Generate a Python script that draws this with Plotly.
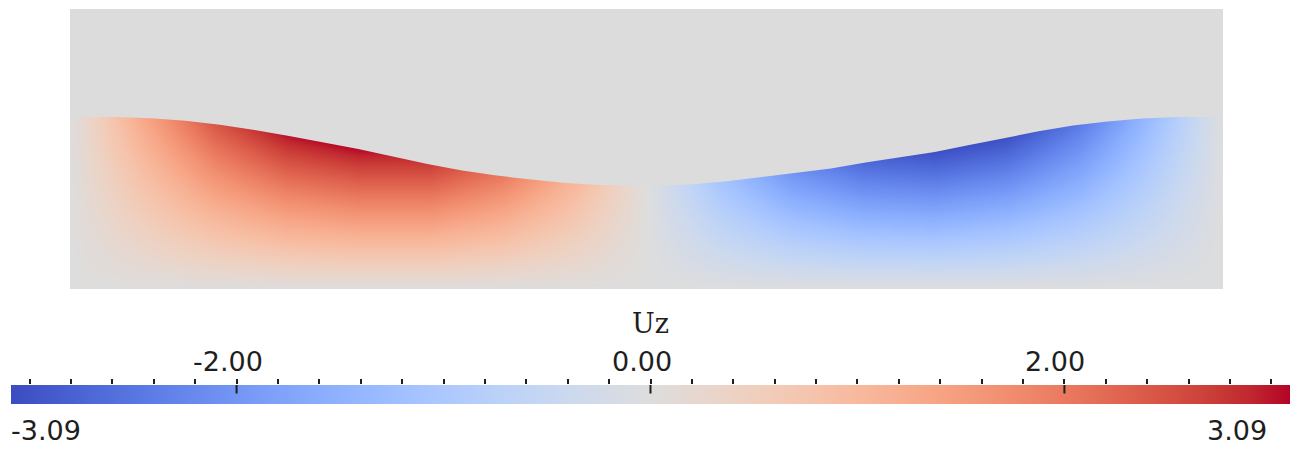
import plotly.graph_objects as go

# ---- field data -------------------------------------------------------------
# Normalised slab coordinates: s along the length (0..1), r up the height (0..1)
U_MIN, U_MAX = -3.09, 3.09

grid_s = [0.0, 0.0625, 0.125, 0.1875, 0.25, 0.3125, 0.375, 0.4375, 0.5,
          0.5625, 0.625, 0.6875, 0.75, 0.8125, 0.875, 0.9375, 1.0]
grid_r = [0.0, 0.1, 0.2, 0.3, 0.4, 0.5, 0.6, 0.7]

# Uz sampled on the grid (rows follow grid_r, columns follow grid_s)
uz_r00 = [0.00, 0.00, 0.00, 0.00, 0.00, 0.00, 0.00, 0.00, 0.00,
          0.00, 0.00, 0.00, 0.00, 0.00, 0.00, 0.00, 0.00]
uz_r01 = [0.00, 0.21, 0.41, 0.55, 0.61, 0.61, 0.49, 0.28, 0.00,
          -0.28, -0.49, -0.60, -0.62, -0.56, -0.41, -0.21, 0.00]
uz_r02 = [0.00, 0.43, 0.82, 1.10, 1.22, 1.22, 0.99, 0.56, 0.00,
          -0.56, -0.97, -1.19, -1.24, -1.11, -0.83, -0.43, 0.00]
uz_r03 = [0.00, 0.64, 1.23, 1.64, 1.83, 1.83, 1.48, 0.84, 0.00,
          -0.84, -1.46, -1.79, -1.86, -1.67, -1.24, -0.64, 0.00]
uz_r04 = [0.00, 0.85, 1.64, 2.19, 2.44, 2.44, 1.98, 1.12, 0.00,
          -1.12, -1.95, -2.38, -2.48, -2.23, -1.66, -0.85, 0.00]
uz_r05 = [0.00, 1.07, 2.05, 2.74, 3.06, 3.05, 2.47, 1.40, 0.00,
          -1.40, -2.44, -2.98, -3.09, -2.79, -2.07, -1.07, 0.00]
uz_r06 = [0.00, 1.28, 2.46, 3.29, 3.67, 3.65, 2.96, 1.67, 0.00,
          -1.67, -2.92, -3.57, -3.73, -3.34, -2.48, -1.28, 0.00]
uz_r07 = [0.00, 1.49, 2.87, 3.84, 4.28, 4.26, 3.46, 1.95, 0.00,
          -1.95, -3.41, -4.17, -4.35, -3.90, -2.90, -1.49, 0.00]

# Deformed top surface of the slab
edge_s = [0.00, 0.04, 0.07, 0.10, 0.13, 0.16, 0.19, 0.22, 0.25, 0.28, 0.31,
          0.34, 0.37, 0.40, 0.43, 0.46, 0.50,
          0.54, 0.57, 0.60, 0.63, 0.66, 0.69, 0.72, 0.75, 0.78, 0.81,
          0.84, 0.87, 0.90, 0.93, 0.96, 1.00]
edge_r = [0.614, 0.614, 0.610, 0.601, 0.587, 0.568, 0.546, 0.523, 0.500,
          0.473, 0.446, 0.423, 0.405, 0.391, 0.379, 0.371, 0.368,
          0.374, 0.385, 0.400, 0.414, 0.430, 0.452, 0.470, 0.489, 0.514,
          0.539, 0.563, 0.584, 0.598, 0.609, 0.614, 0.614]

# Colour bar ticks
major_ticks = [-2.0, 0.0, 2.0]
minor_step = 0.2

# ---- styling ---------------------------------------------------------------
W, H = 1306, 454
BG_GREY = "rgb(220,220,220)"
INK = "#1e1e1e"

cool_warm = [
    [0.00000, "rgb(59,76,192)"], [0.03125, "rgb(68,90,204)"],
    [0.06250, "rgb(77,104,215)"], [0.09375, "rgb(87,117,225)"],
    [0.12500, "rgb(98,130,234)"], [0.15625, "rgb(108,142,241)"],
    [0.18750, "rgb(119,154,247)"], [0.21875, "rgb(130,165,251)"],
    [0.25000, "rgb(141,176,254)"], [0.28125, "rgb(152,185,255)"],
    [0.31250, "rgb(163,194,255)"], [0.34375, "rgb(174,201,253)"],
    [0.37500, "rgb(184,208,249)"], [0.40625, "rgb(194,213,244)"],
    [0.43750, "rgb(204,217,238)"], [0.46875, "rgb(213,219,230)"],
    [0.50000, "rgb(221,221,221)"], [0.53125, "rgb(229,216,209)"],
    [0.56250, "rgb(236,211,197)"], [0.59375, "rgb(241,204,185)"],
    [0.62500, "rgb(245,196,173)"], [0.65625, "rgb(247,187,160)"],
    [0.68750, "rgb(247,177,148)"], [0.71875, "rgb(247,166,135)"],
    [0.75000, "rgb(244,154,123)"], [0.78125, "rgb(241,141,111)"],
    [0.81250, "rgb(236,127,99)"], [0.84375, "rgb(229,112,88)"],
    [0.87500, "rgb(222,96,77)"], [0.90625, "rgb(213,80,66)"],
    [0.93750, "rgb(203,62,56)"], [0.96875, "rgb(192,40,47)"],
    [1.00000, "rgb(180,4,38)"],
]

# pixel layout of the two panels
plot_l, plot_r, plot_t, plot_b = 70, 1223, 9, 289
bar_l, bar_r, bar_t, bar_b = 11, 1290, 385, 404

fig = go.Figure()

fig.add_trace(go.Heatmap(
    x=grid_s, y=grid_r,
    z=[uz_r00, uz_r01, uz_r02, uz_r03, uz_r04, uz_r05, uz_r06, uz_r07],
    zmin=U_MIN, zmax=U_MAX, zsmooth="best",
    colorscale=cool_warm, hoverinfo="skip",
    colorbar=dict(
        orientation="h",
        x=bar_l / W, xanchor="left",
        y=1 - bar_b / H, yanchor="bottom",
        len=bar_r - bar_l, lenmode="pixels",
        thickness=bar_b - bar_t, thicknessmode="pixels",
        xpad=0, ypad=0, outlinewidth=0,
        ticks="", showticklabels=False,
    ),
))

# background above the deformed surface
fig.add_trace(go.Scatter(
    x=edge_s, y=edge_r, mode="lines", line=dict(width=0, color=BG_GREY),
    hoverinfo="skip", showlegend=False,
))
fig.add_trace(go.Scatter(
    x=edge_s, y=[1.0] * len(edge_s), mode="lines",
    line=dict(width=0, color=BG_GREY), fill="tonexty", fillcolor=BG_GREY,
    hoverinfo="skip", showlegend=False,
))

# empty trace that carries the colour-bar tick axis
fig.add_trace(go.Scatter(x=[], y=[], xaxis="x2", yaxis="y2",
                         showlegend=False, hoverinfo="skip"))

fig.add_shape(type="rect", xref="x domain", yref="y domain",
              x0=0, x1=1, y0=0, y1=1, fillcolor=BG_GREY,
              line=dict(width=0), layer="below")

tick_font = dict(family="DejaVu Sans", size=27, color=INK)

annotations = [
    dict(text="Uz", x=650 / W, y=1 - 323 / H, xref="paper", yref="paper",
         xanchor="center", yanchor="middle", showarrow=False,
         font=dict(family="DejaVu Serif", size=27, color=INK)),
    dict(text=f"{U_MIN:.2f}", x=U_MIN, xref="x2", xanchor="left", xshift=-2,
         y=1 - 430 / H, yref="paper", yanchor="middle", showarrow=False,
         font=tick_font),
    dict(text=f"{U_MAX:.2f}", x=U_MAX, xref="x2", xanchor="right",
         xshift=-21, y=1 - 430 / H, yref="paper", yanchor="middle",
         showarrow=False, font=tick_font),
]
for v in major_ticks:
    # major tick label above the bar
    annotations.append(dict(
        text=f"{v:.2f}", x=v, xref="x2", xanchor="center", xshift=-9,
        y=1 - 361 / H, yref="paper", yanchor="middle", showarrow=False,
        font=tick_font))
    # part of the major tick that runs down into the bar
    annotations.append(dict(
        text="", x=v, xref="x2", y=1, yref="y2 domain", showarrow=True,
        ax=0, ay=10, arrowhead=0, arrowwidth=2, arrowcolor=INK,
        standoff=0, startstandoff=0))

fig.update_layout(
    width=W, height=H,
    margin=dict(l=0, r=0, t=0, b=0),
    paper_bgcolor="white", plot_bgcolor="rgba(0,0,0,0)",
    showlegend=False,
    xaxis=dict(domain=[plot_l / W, plot_r / W], range=[0, 1], visible=False),
    yaxis=dict(domain=[1 - plot_b / H, 1 - plot_t / H], range=[0, 1],
               visible=False),
    xaxis2=dict(
        domain=[bar_l / W, bar_r / W], range=[U_MIN, U_MAX], anchor="y2",
        side="top", showgrid=False, zeroline=False, showline=False,
        tickvals=major_ticks, showticklabels=False,
        ticks="outside", ticklen=4, tickwidth=2, tickcolor=INK,
        minor=dict(dtick=minor_step, tick0=0, ticks="outside", ticklen=5,
                   tickwidth=1.5, tickcolor=INK, showgrid=False),
    ),
    yaxis2=dict(domain=[1 - bar_b / H, 1 - bar_t / H], range=[0, 1],
                visible=False),
    annotations=annotations,
)

fig.write_html("out.html")
